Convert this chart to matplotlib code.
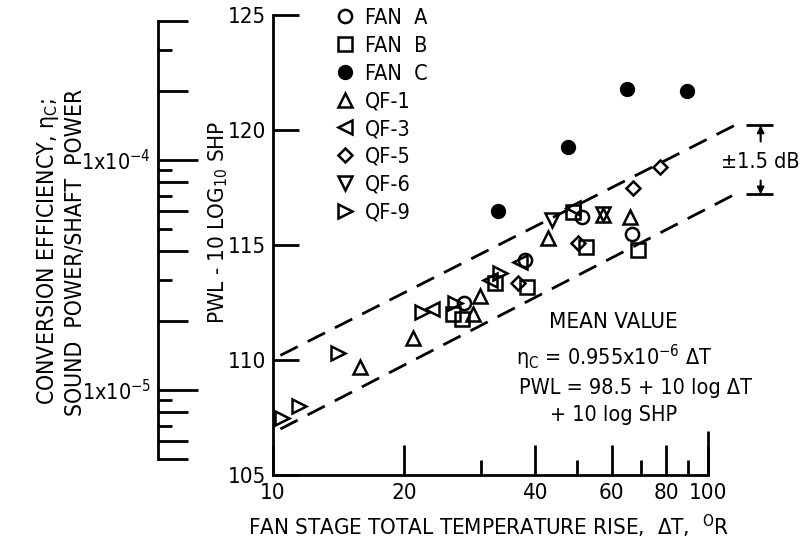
import numpy as np
import matplotlib.pyplot as plt
from matplotlib.ticker import NullFormatter

plt.rcParams['font.family'] = ['DejaVu Sans']
plt.rcParams['font.stretch'] = 'condensed'
plt.rcParams['mathtext.fontset'] = 'custom'
plt.rcParams['mathtext.rm'] = 'DejaVu Sans:stretch=condensed'
plt.rcParams['mathtext.it'] = 'DejaVu Sans:stretch=condensed'
plt.rcParams['mathtext.sf'] = 'DejaVu Sans:stretch=condensed'

# data (delta T in deg R, PWL - 10 log SHP in dB)
fan_a_x = [27.5, 37.9, 51.3, 67.0]
fan_a_y = [112.5, 114.35, 116.2, 115.5]
fan_b_x = [25.9, 27.2, 32.4, 38.4, 48.9, 52.4, 69.0]
fan_b_y = [112.0, 111.8, 113.35, 113.17, 116.43, 114.9, 114.8]
fan_c_x = [32.9, 47.6, 65.2, 89.6]
fan_c_y = [116.5, 119.26, 121.8, 121.7]
qf1_x = [15.85, 21.0, 28.8, 29.9, 42.9, 57.4, 66.2]
qf1_y = [109.7, 110.96, 112.0, 112.8, 115.3, 116.3, 116.2]
qf3_x = [23.2, 31.6, 37.0, 49.0]
qf3_y = [112.2, 113.5, 114.26, 116.6]
qf5_x = [36.6, 50.2, 67.3, 77.6]
qf5_y = [113.35, 115.1, 117.5, 118.4]
qf6_x = [43.8, 57.4]
qf6_y = [116.1, 116.35]
qf9_x = [10.5, 11.5, 14.1, 22.0, 26.2, 33.3]
qf9_y = [107.5, 108.0, 110.3, 112.1, 112.5, 113.8]

# +-1.5 dB band about the mean line
band_x = [10.4, 115.0]
band_upper = [110.2, 120.2]
band_lower = [107.0, 117.2]

# conversion efficiency scale: eta = 10**((Y - eta_offset)/10)
eta_offset = 158.7
eta_even = [4e-4, 2e-4, 8e-5, 6e-5, 4e-5, 2e-5, 8e-6, 6e-6, 5e-6]
eta_odd = [3e-4, 9e-5, 7e-5, 5e-5, 3e-5, 9e-6, 7e-6]
eta_major = [1e-4, 1e-5]

W, H = 802, 544
fig = plt.figure(figsize=(W / 100, H / 100), dpi=100)

ax = fig.add_axes([273 / W, 1 - 475 / H, 524 / W, 460 / H])
ax.set_xscale('log')
ax.set_xlim(10, 160)
ax.set_ylim(105, 125)

mk = dict(linestyle='none', markersize=9.5, markeredgewidth=1.8,
          markeredgecolor='black', markerfacecolor='none')
ax.plot(fan_a_x, fan_a_y, marker='o', label='FAN  A', **mk)
ax.plot(fan_b_x, fan_b_y, marker='s', label='FAN  B', **mk)
ax.plot(fan_c_x, fan_c_y, marker='o', linestyle='none', markersize=10,
        color='black', label='FAN  C')
ax.plot(qf1_x, qf1_y, marker='^', label='QF-1', **mk)
ax.plot(qf3_x, qf3_y, marker='<', label='QF-3', **mk)
ax.plot(qf5_x, qf5_y, marker='D', label='QF-5', **{**mk, 'markersize': 7.5})
ax.plot(qf6_x, qf6_y, marker='v', label='QF-6', **mk)
ax.plot(qf9_x, qf9_y, marker='>', label='QF-9', **mk)

ax.plot(band_x, band_upper, color='black', lw=2, linestyle=(0, (7, 4)))
ax.plot(band_x, band_lower, color='black', lw=2, linestyle=(0, (7, 4)))

# +-1.5 dB bracket
bx = 132
ax.hlines([band_upper[1], band_lower[1]], 122, 141, color='black', lw=2)
ax.annotate('', xy=(bx, band_upper[1]), xytext=(bx, 119.5),
            arrowprops=dict(arrowstyle='-|>', color='black', lw=1.5,
                            mutation_scale=10, shrinkA=0, shrinkB=0))
ax.annotate('', xy=(bx, band_lower[1]), xytext=(bx, 117.8),
            arrowprops=dict(arrowstyle='-|>', color='black', lw=1.5,
                            mutation_scale=10, shrinkA=0, shrinkB=0))
ax.text(bx, 118.6, '±1.5 dB', ha='center', va='center', fontsize=15.5,
        bbox=dict(facecolor='white', edgecolor='none', pad=0))

# mean value text
ax.text(43.1, 111.65, 'MEAN VALUE', fontsize=16, va='center')
ax.text(36.2, 110.1, 'η$_C$ = 0.955x10$^{-6}$ ΔT', fontsize=15.5, va='center')
ax.text(36.8, 108.8, 'PWL = 98.5 + 10 log ΔT', fontsize=15.5, va='center')
ax.text(43.3, 107.6, '+ 10 log SHP', fontsize=15.5, va='center')

for s in ['top', 'right']:
    ax.spines[s].set_visible(False)
ax.spines['bottom'].set_bounds(10, 100)
ax.spines['left'].set_linewidth(2)
ax.spines['bottom'].set_linewidth(2)

ax.set_yticks([105, 110, 115, 120, 125])
ax.tick_params(axis='y', direction='in', length=19, width=2, labelsize=16, pad=5)
ax.set_xticks([10, 20, 40, 60, 80, 100], ['10', '20', '40', '60', '80', '100'])
ax.set_xticks([30, 50, 70, 90], minor=True)
ax.xaxis.set_minor_formatter(NullFormatter())
ax.tick_params(axis='x', which='major', direction='in', length=21.5, width=2,
               labelsize=16, pad=6)
ax.tick_params(axis='x', which='minor', direction='in', length=11, width=2)
ax.vlines(100, 105, 106.9, color='black', lw=2)

ax.set_xlabel('FAN STAGE TOTAL TEMPERATURE RISE,  ΔT,  $^{\\mathrm{O}}$R',
              fontsize=16, va='center')
ax.xaxis.set_label_coords((489 - 273) / 524, -(526 - 475) / 460)

fig.text(218 / W, 1 - 222 / H, 'PWL - 10 LOG$_{10}$ SHP', rotation=90,
         ha='center', va='center', fontsize=16)

leg = ax.legend(loc='upper left', bbox_to_anchor=(334 / W, 1 - 8 / H),
                bbox_transform=fig.transFigure, frameon=False, fontsize=15.5,
                handlelength=1.0, handletextpad=0.45, labelspacing=0.36,
                borderpad=0, borderaxespad=0, numpoints=1)

# conversion efficiency axis
ax_e = fig.add_axes([158 / W, 1 - 475 / H, 41 / W, 460 / H])
ax_e.set_yscale('log')
ax_e.set_ylim(10 ** ((105 - eta_offset) / 10), 10 ** ((125 - eta_offset) / 10))
ax_e.set_xlim(0, 41)
for s in ['top', 'right', 'bottom']:
    ax_e.spines[s].set_visible(False)
ax_e.spines['left'].set_bounds(5e-6, 4e-4)
ax_e.spines['left'].set_linewidth(2)
ax_e.set_xticks([])
ax_e.set_yticks(eta_major, ['1x10$^{-4}$', '1x10$^{-5}$'])
ax_e.yaxis.set_minor_locator(plt.NullLocator())
ax_e.tick_params(axis='y', length=0, labelsize=15.5, pad=5)
ax_e.hlines(eta_major, 0, 40, color='black', lw=2)
ax_e.hlines(eta_even, 0, 30, color='black', lw=2)
ax_e.hlines(eta_odd, 0, 14, color='black', lw=2)
ax_e.patch.set_visible(False)

fig.text(61 / W, 1 - 252 / H,
         'CONVERSION EFFICIENCY, η$_C$;\nSOUND  POWER/SHAFT  POWER',
         rotation=90, ha='center', va='center', fontsize=16.5, linespacing=1.2)

fig.savefig('out.png', dpi=100)
